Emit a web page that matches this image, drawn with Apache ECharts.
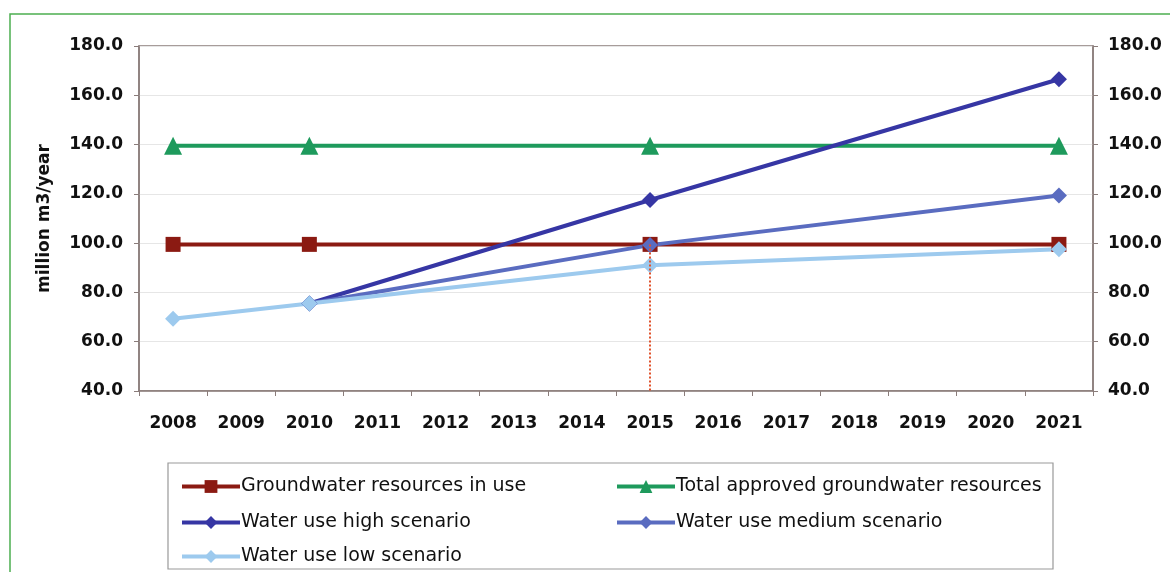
<!DOCTYPE html>
<html>
<head>
<meta charset="utf-8">
<script src="https://cdn.jsdelivr.net/npm/echarts@6/dist/echarts.min.js"></script>
<style>
  html, body { margin: 0; padding: 0; background: #fff; }
  #chart { width: 1170px; height: 572px; }
</style>
</head>
<body>
<div id="chart"></div>
<script>
// years on the x axis
var years = ['2008','2009','2010','2011','2012','2013','2014','2015','2016','2017','2018','2019','2020','2021']
// null where there is no point (lines joined across)
var inUse    = [99.5, null, 99.5, null, null, null, null, 99.5, null, null, null, null, null, 99.5]
var approved = [139.5, null, 139.5, null, null, null, null, 139.5, null, null, null, null, null, 139.5]
var highUse  = [null, null, 75.5, null, null, null, null, 117.5, null, null, null, null, null, 166.5]
var medUse   = [null, null, 75.5, null, null, null, null, 99.2, null, null, null, null, null, 119.3]
var lowUse   = [69.3, null, 75.5, null, null, null, null, 91.0, null, null, null, null, null, 97.5]
var names = ['Groundwater resources in use', 'Total approved groundwater resources',
             'Water use high scenario', 'Water use medium scenario', 'Water use low scenario']

var font = 'DejaVu Sans, sans-serif'
var axisCol = '#8a7c7a'

function lineSeries(name, data, color, symbol, size) {
    return {
        name: name,
        type: 'line',
        data: data,
        connectNulls: true,
        symbol: symbol,
        symbolSize: size,
        lineStyle: { color: color, width: 4 },
        itemStyle: { color: color },
        z: 3
    }
}

function legendCell(name, left, top) {
    return {
        data: [name],
        left: left,
        top: top,
        itemWidth: 58,
        itemHeight: 16,
        itemGap: 4,
        lineStyle: { width: 4 },
        textStyle: { fontFamily: font, fontSize: 19, color: '#111', padding: [0, 0, 0, -4] },
        selectedMode: false
    }
}

var chart = echarts.init(document.getElementById('chart'))
var option = {
    animation: false,
    grid: { left: 139, right: 77, top: 46, bottom: 181, show: true, borderColor: axisCol, borderWidth: 1.5 },
    graphic: [
        { type: 'rect', shape: { x: 10, y: 14, width: 1200, height: 600 }, style: { fill: 'none', stroke: '#4caf50', lineWidth: 1.5 }, silent: true },
        { type: 'rect', shape: { x: 168, y: 463, width: 885, height: 106 }, style: { fill: '#fff', stroke: '#999', lineWidth: 1.2 }, silent: true, z: 0 }
    ],
    legend: [
        legendCell(names[0], 175, 472),
        legendCell(names[1], 610, 472),
        legendCell(names[2], 175, 508),
        legendCell(names[3], 610, 508),
        legendCell(names[4], 175, 542)
    ],
    xAxis: {
        type: 'category',
        data: years,
        boundaryGap: true,
        axisLine: { lineStyle: { color: axisCol, width: 1.5 } },
        axisTick: { show: true, length: 5, lineStyle: { color: axisCol } },
        axisLabel: { fontFamily: font, fontWeight: 'bold', fontSize: 17, color: '#111', margin: 24 }
    },
    yAxis: [
        {
            type: 'value', min: 40, max: 180, interval: 20,
            name: 'million m3/year', nameLocation: 'middle', nameGap: 86, nameRotate: 90,
            nameTextStyle: { fontFamily: font, fontWeight: 'bold', fontSize: 17, color: '#111' },
            axisLine: { show: true, lineStyle: { color: axisCol, width: 1.5 } },
            axisTick: { show: true, length: 5, lineStyle: { color: axisCol } },
            axisLabel: { fontFamily: font, fontWeight: 'bold', fontSize: 17, color: '#111', margin: 16,
                         formatter: function (v) { return v.toFixed(1) } },
            splitLine: { lineStyle: { color: '#e6e6e6' } }
        },
        {
            type: 'value', min: 40, max: 180, interval: 20, position: 'right',
            axisLine: { show: true, lineStyle: { color: axisCol, width: 1.5 } },
            axisTick: { show: true, length: 5, lineStyle: { color: axisCol } },
            axisLabel: { fontFamily: font, fontWeight: 'bold', fontSize: 17, color: '#111', margin: 15,
                         formatter: function (v) { return v.toFixed(1) } },
            splitLine: { show: false }
        }
    ],
    series: [
        Object.assign(lineSeries(names[0], inUse, '#8b1a12', 'rect', 15), {
            markLine: {
                silent: true, symbol: 'none', label: { show: false },
                lineStyle: { color: '#e0522c', type: 'dotted', width: 2 },
                data: [[{ coord: ['2015', 99.5] }, { coord: ['2015', 40] }]]
            }
        }),
        lineSeries(names[1], approved, '#1e9a5c', 'triangle', 18),
        lineSeries(names[2], highUse, '#3636a4', 'diamond', 16),
        lineSeries(names[3], medUse, '#5a6cc0', 'diamond', 16),
        lineSeries(names[4], lowUse, '#9dcaee', 'diamond', 16)
    ]
}
chart.setOption(option)
</script>
</body>
</html>
